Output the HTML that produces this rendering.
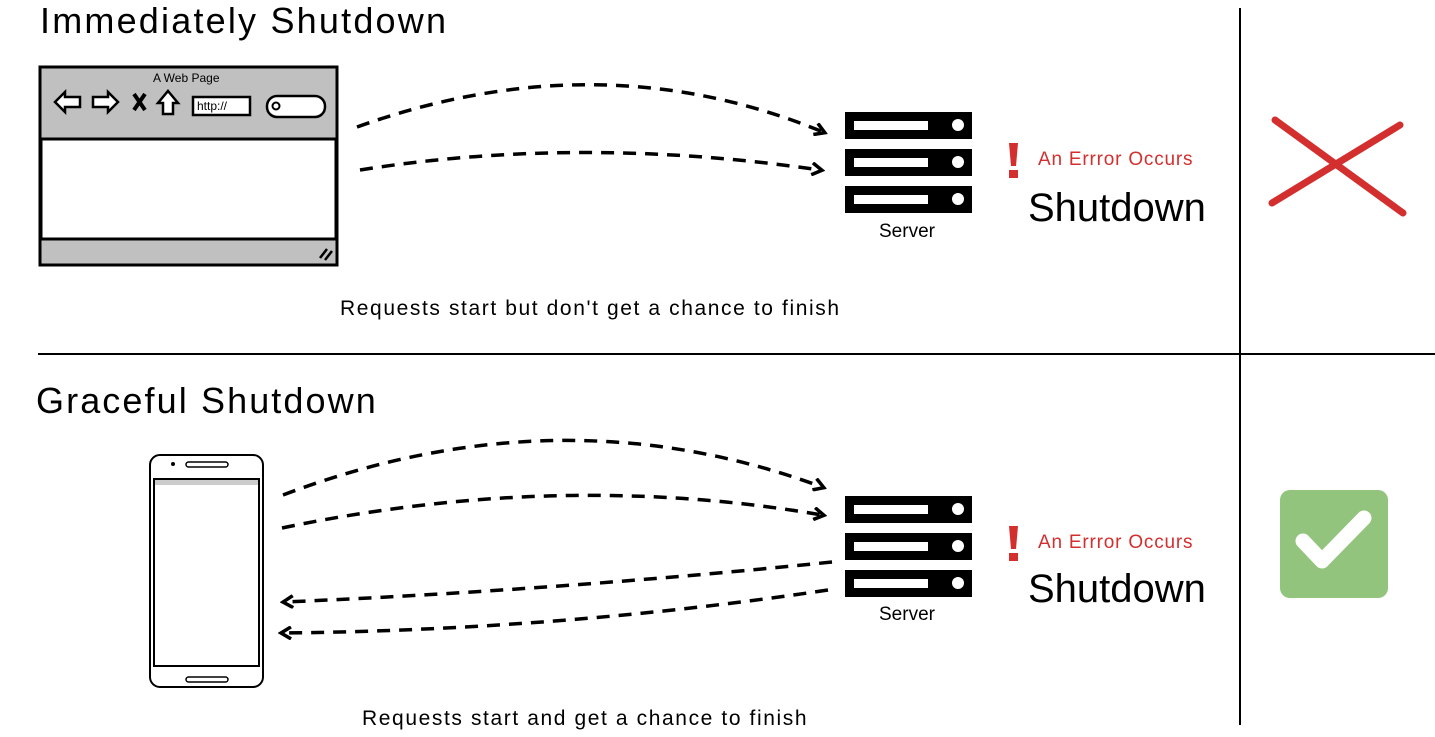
<!DOCTYPE html>
<html><head><style>
body{margin:0;width:1435px;height:737px;background:#fff;overflow:hidden;position:relative;font-family:"Liberation Sans",sans-serif}
.t{position:absolute;white-space:nowrap;color:#000;z-index:2}
</style></head><body>
<div class="t" style="left:40px;top:0px;font-size:36px;letter-spacing:2.2px">Immediately Shutdown</div>
<div class="t" style="left:36px;top:380px;font-size:36px;letter-spacing:2.1px">Graceful Shutdown</div>
<div class="t" style="left:340px;top:297px;font-size:21px;letter-spacing:1.6px">Requests start but don't get a chance to finish</div>
<div class="t" style="left:362px;top:707px;font-size:21px;letter-spacing:1.6px">Requests start and get a chance to finish</div>
<div class="t" style="left:879px;top:221px;font-size:19px">Server</div>
<div class="t" style="left:879px;top:604px;font-size:19px">Server</div>
<div class="t" style="left:1038px;top:149px;font-size:19px;color:#d32f2f;letter-spacing:0.8px">An Errror Occurs</div>
<div class="t" style="left:1038px;top:532px;font-size:19px;color:#d32f2f;letter-spacing:0.8px">An Errror Occurs</div>
<div class="t" style="left:1028px;top:186px;font-size:40px">Shutdown</div>
<div class="t" style="left:1028px;top:567px;font-size:40px">Shutdown</div>
<div class="t" style="left:153px;top:71px;font-size:12px">A Web Page</div>
<div class="t" style="left:197px;top:99px;font-size:12px">http://</div>
<svg width="1435" height="737" style="position:absolute;left:0;top:0;z-index:1">
<defs><marker id="a" markerWidth="14" markerHeight="14" refX="9" refY="7" orient="auto" markerUnits="userSpaceOnUse"><path d="M1,1 L11,7 L1,13" fill="none" stroke="#000" stroke-width="3.5"/></marker></defs>
<line x1="1240" y1="8" x2="1240" y2="725" stroke="#000" stroke-width="2"/>
<line x1="38" y1="354" x2="1435" y2="354" stroke="#000" stroke-width="2"/>
<rect x="40" y="67" width="297" height="198" fill="#c0c0c0" stroke="#000" stroke-width="3"/>
<rect x="41" y="139" width="295" height="100" fill="#fff" stroke="#000" stroke-width="3"/>
<path d="M55,102 L65,92 L65,97 L80,97 L80,107 L65,107 L65,112 Z" fill="#fff" stroke="#000" stroke-width="2.5"/>
<path d="M118,102 L108,92 L108,97 L93,97 L93,107 L108,107 L108,112 Z" fill="#fff" stroke="#000" stroke-width="2.5"/>
<path d="M134,94 L145,110 M145,94 L134,110" stroke="#000" stroke-width="4"/>
<path d="M168,91 L178,103 L173,103 L173,114 L163,114 L163,103 L158,103 Z" fill="#fff" stroke="#000" stroke-width="2.5"/>
<rect x="193" y="97" width="57" height="18" fill="#fff" stroke="#000" stroke-width="2.5"/>
<rect x="267" y="96" width="58" height="21" rx="10" fill="#fff" stroke="#000" stroke-width="2.5"/>
<circle cx="276" cy="106" r="3.5" fill="none" stroke="#000" stroke-width="2"/>
<path d="M320,258 L327,249 M325,260 L332,251" stroke="#000" stroke-width="2.5"/>
<rect x="150" y="455" width="113" height="232" rx="10" fill="#fff" stroke="#000" stroke-width="2"/>
<rect x="154" y="479" width="105" height="187" fill="#fff" stroke="#000" stroke-width="2"/>
<rect x="155" y="480" width="103" height="5" fill="#ccc"/>
<rect x="186" y="462" width="42" height="5" rx="2.5" fill="none" stroke="#000" stroke-width="1.5"/>
<rect x="186" y="677" width="42" height="5" rx="2.5" fill="none" stroke="#000" stroke-width="1.5"/>
<circle cx="173" cy="464" r="2" fill="#000"/>
<g id="s">
<rect x="845" y="112" width="127" height="27" fill="#000"/><rect x="854" y="121" width="74" height="9" fill="#fff"/><circle cx="958" cy="125" r="6" fill="#fff"/>
<rect x="845" y="149" width="127" height="27" fill="#000"/><rect x="854" y="158" width="74" height="9" fill="#fff"/><circle cx="958" cy="162" r="6" fill="#fff"/>
<rect x="845" y="186" width="127" height="27" fill="#000"/><rect x="854" y="195" width="74" height="9" fill="#fff"/><circle cx="958" cy="199" r="6" fill="#fff"/>
</g>
<use href="#s" y="384"/>
<path d="M1009,143 L1018,143 L1016,166 L1011,166 Z" fill="#d32f2f"/><rect x="1009" y="170" width="9" height="8" fill="#d32f2f"/>
<path d="M1009,526 L1018,526 L1016,549 L1011,549 Z" fill="#d32f2f"/><rect x="1009" y="553" width="9" height="8" fill="#d32f2f"/>
<g fill="none" stroke="#000" stroke-width="3.5" stroke-dasharray="13,9" marker-end="url(#a)">
<path d="M357,127 Q600,40 823,132"/>
<path d="M360,170 Q580,135 820,170"/>
<path d="M283,495 Q560,390 822,487"/>
<path d="M282,528 Q560,470 822,515"/>
<path d="M832,562 Q560,590 285,602"/>
<path d="M828,590 Q560,630 283,633"/>
</g>
<path d="M1275,120 L1403,213 M1400,125 L1272,203" stroke="#d32f2f" stroke-width="7" stroke-linecap="round"/>
<rect x="1280" y="490" width="108" height="108" rx="10" fill="#93c47d"/>
<path d="M1303,541 L1322,561 L1364,518" fill="none" stroke="#fff" stroke-width="15" stroke-linecap="round" stroke-linejoin="round"/>
</svg>
</body></html>
